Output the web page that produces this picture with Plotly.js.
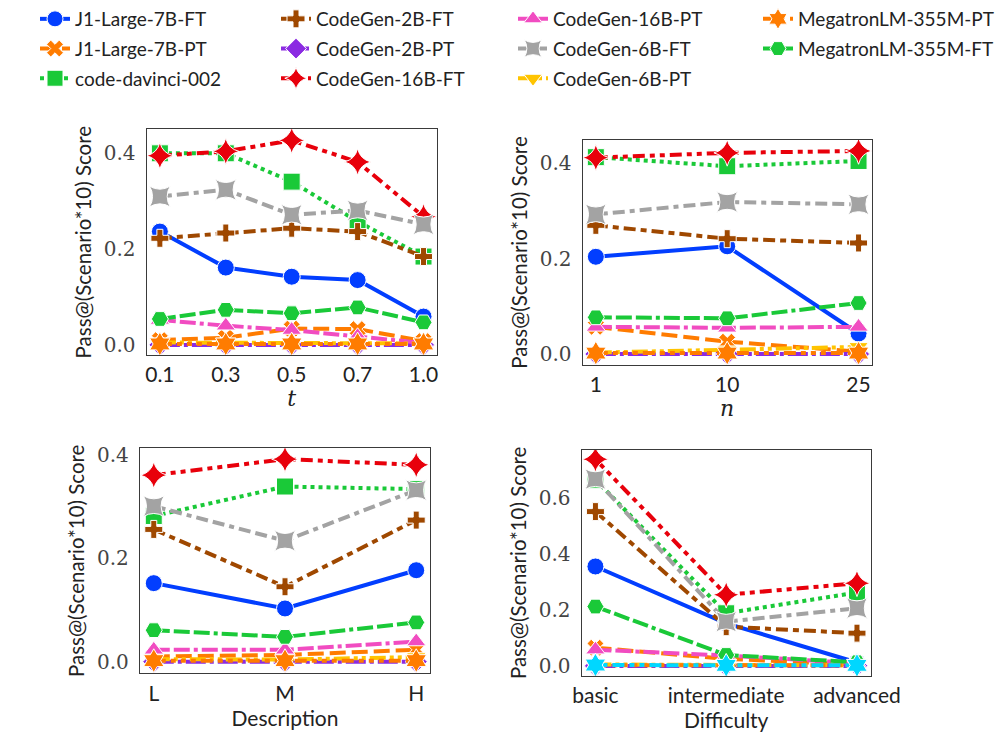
<!DOCTYPE html>
<html>
<head>
<meta charset="utf-8">
<script src="https://cdn.plot.ly/plotly-3.0.1.min.js"></script>
<style>html,body{margin:0;padding:0;background:#fff;}#chart{width:1008px;height:734px;}</style>
</head>
<body>
<div id="chart"></div>
<script>
// ---------- data ----------
const models = ['J1-Large-7B-FT','J1-Large-7B-PT','code-davinci-002','CodeGen-2B-FT','CodeGen-2B-PT',
  'CodeGen-16B-FT','CodeGen-16B-PT','CodeGen-6B-FT','CodeGen-6B-PT','MegatronLM-355M-PT','MegatronLM-355M-FT'];
const extraName = '';

const tCats = ['0.1','0.3','0.5','0.7','1.0'];
const nCats = ['1','10','25'];
const descCats = ['L','M','H'];
const diffCats = ['basic','intermediate','advanced'];

// values per model (same order as models)
const tScores = [
  [0.236, 0.161, 0.142, 0.135, 0.059],
  [0.010, 0.015, 0.034, 0.033, 0.008],
  [0.399, 0.399, 0.340, 0.257, 0.184],
  [0.222, 0.233, 0.243, 0.236, 0.184],
  [0.000, 0.000, 0.000, 0.000, 0.000],
  [0.394, 0.403, 0.426, 0.381, 0.267],
  [0.052, 0.040, 0.031, 0.018, 0.004],
  [0.309, 0.323, 0.271, 0.280, 0.251],
  [0.005, 0.005, 0.005, 0.005, 0.003],
  [0.002, 0.002, 0.002, 0.002, 0.002],
  [0.054, 0.073, 0.066, 0.078, 0.047]
];
const nScores = [
  [0.204, 0.226, 0.043],
  [0.057, 0.026, 0.005],
  [0.413, 0.394, 0.405],
  [0.270, 0.242, 0.233],
  [0.000, 0.000, 0.000],
  [0.412, 0.422, 0.426],
  [0.057, 0.055, 0.057],
  [0.293, 0.319, 0.314],
  [0.003, 0.008, 0.015],
  [0.002, 0.002, 0.002],
  [0.077, 0.075, 0.107]
];
const descScores = [
  [0.152, 0.103, 0.177],
  [0.010, 0.013, 0.023],
  [0.282, 0.339, 0.334],
  [0.256, 0.145, 0.274],
  [0.000, 0.000, 0.000],
  [0.361, 0.392, 0.381],
  [0.023, 0.023, 0.039],
  [0.301, 0.234, 0.332],
  [0.005, 0.004, 0.009],
  [0.002, 0.002, 0.002],
  [0.061, 0.048, 0.076]
];
const diffScores = [
  [0.355, 0.152, 0.012],
  [0.065, 0.025, 0.005],
  [0.665, 0.188, 0.262],
  [0.551, 0.140, 0.117],
  [0.000, 0.000, 0.000],
  [0.738, 0.254, 0.295],
  [0.058, 0.037, 0.010],
  [0.667, 0.158, 0.206],
  [0.005, 0.003, 0.002],
  [0.002, 0.002, 0.002],
  [0.212, 0.039, 0.013]
];
const diffExtra = [0.003, 0.002, 0.002];

const yTickVals = [0, 0.2, 0.4, 0.6];
const yTickText = ['0.0', '0.2', '0.4', '0.6'];

// ---------- styles ----------
const colors = ['#023eff','#ff7c00','#1ac938','#9f4800','#8b2be2','#e8000b','#f14cc1','#a3a3a3','#ffc400','#ff7c00','#1ac938'];
const extraColor = '#00d7ff';
const symbols = ['circle','x','square','cross','diamond','star-diamond','triangle-up','star-square','triangle-down','hexagram','hexagon2'];
const extraSymbol = 'hexagram';
const dashes = ['solid','16px,6px','4px,4px','12px,5px,6px,5px','20px,4px,4px,4px','12px,5px,5px,5px,5px,5px',
  '16px,4px,16px,4px,4px,4px','12px,5px,12px,5px,5px,5px','16px,4px,4px,4px,4px,4px',
  '12px,5px,5px,5px,5px,5px,5px,5px','16px,4px,16px,4px,16px,4px,4px,4px'];
const extraDash = '12px,5px,12px,5px,5px,5px,5px,5px';
const legendOf = ['legend','legend','legend','legend2','legend2','legend2','legend3','legend3','legend3','legend4','legend4'];

const SANS = 'Lato';
const SERIF = 'DejaVu Serif';

const panels = [
  {cats: tCats, scores: tScores, xa: 'x', ya: 'y'},
  {cats: nCats, scores: nScores, xa: 'x2', ya: 'y2'},
  {cats: descCats, scores: descScores, xa: 'x3', ya: 'y3'},
  {cats: diffCats, scores: diffScores, xa: 'x4', ya: 'y4'}
];

function markerSize(sym) {
  if (sym === 'cross' || sym === 'x') return 15;
  if (sym.startsWith('star')) return 19;
  if (sym === 'hexagram') return 18;
  return 17;
}

const traces = [];
panels.forEach((p, pi) => {
  models.forEach((m, i) => {
    traces.push({
      type: 'scatter', mode: 'lines+markers',
      x: p.cats, y: p.scores[i], xaxis: p.xa, yaxis: p.ya,
      name: m, legendgroup: m, legend: legendOf[i], showlegend: pi === 0,
      line: {color: colors[i], width: 4, dash: dashes[i]},
      marker: {symbol: symbols[i], size: markerSize(symbols[i]), color: colors[i], line: {color: '#ffffff', width: 1}}
    });
  });
  if (pi === 3) {
    traces.push({
      type: 'scatter', mode: 'lines+markers',
      x: p.cats, y: diffExtra, xaxis: p.xa, yaxis: p.ya,
      name: extraName, showlegend: false,
      line: {color: extraColor, width: 4, dash: extraDash},
      marker: {symbol: extraSymbol, size: 18, color: extraColor, line: {color: '#ffffff', width: 1}}
    });
  }
});

const W = 1008, H = 734;
function xd(a, b) { return [a / W, b / W]; }
function yd(top, bottom) { return [1 - bottom / H, 1 - top / H]; }

const axisBase = {
  showline: true, mirror: true, linecolor: '#3a3a3a', linewidth: 1.3,
  showgrid: false, zeroline: false, ticks: '', fixedrange: true, automargin: false
};
function xAxis(domain, range, anchor, titleText, titleFont, standoff) {
  return Object.assign({}, axisBase, {
    domain: domain, range: range, type: 'category', anchor: anchor,
    tickfont: {family: SANS, size: 21, color: '#222'}, ticklabelstandoff: 1,
    title: {text: titleText, font: titleFont, standoff: standoff}
  });
}
function yAxis(domain, range, anchor) {
  return Object.assign({}, axisBase, {
    domain: domain, range: range, anchor: anchor,
    tickvals: yTickVals, ticktext: yTickText,
    tickfont: {family: SERIF, size: 20, color: '#444'}, ticklabelstandoff: 6,
    title: {text: 'Pass@(Scenario*10) Score', font: {family: SANS, size: 20.5, color: '#222'}, standoff: 6}
  });
}
const mathFont = {family: SERIF, size: 22, color: '#222', style: 'italic'};
const sansTitle = {family: SANS, size: 21, color: '#222'};

const legendBase = {
  orientation: 'v', xanchor: 'left', yanchor: 'top', y: 1.0,
  bgcolor: 'rgba(0,0,0,0)', borderwidth: 0,
  font: {family: SANS, size: 19, color: '#222'}, tracegroupgap: 2
};

const layout = {
  width: W, height: H,
  margin: {l: 0, r: 0, t: 0, b: 0},
  paper_bgcolor: '#fff', plot_bgcolor: '#fff',
  showlegend: true,
  legend: Object.assign({}, legendBase, {x: 35 / W}),
  legend2: Object.assign({}, legendBase, {x: 276 / W}),
  legend3: Object.assign({}, legendBase, {x: 513 / W}),
  legend4: Object.assign({}, legendBase, {x: 758 / W}),
  xaxis: xAxis(xd(146.7, 436.7), [-0.2, 4.2], 'y', 't', mathFont, 2),
  yaxis: yAxis(yd(129.3, 355), [-0.021, 0.449], 'x'),
  xaxis2: xAxis(xd(582.7, 871.7), [-0.1, 2.1], 'y2', 'n', mathFont, 2),
  yaxis2: yAxis(yd(140, 365), [-0.023, 0.449], 'x2'),
  xaxis3: xAxis(xd(140, 430), [-0.105, 2.105], 'y3', 'Description', sansTitle, 2),
  yaxis3: yAxis(yd(448.3, 673.3), [-0.0225, 0.413], 'x3'),
  xaxis4: xAxis(xd(581.7, 870.7), [-0.105, 2.105], 'y4', 'Difficulty', sansTitle, 2),
  yaxis4: yAxis(yd(450, 675.7), [-0.035, 0.771], 'x4')
};

Plotly.newPlot('chart', traces, layout, {displayModeBar: false, staticPlot: false});
</script>
</body>
</html>
